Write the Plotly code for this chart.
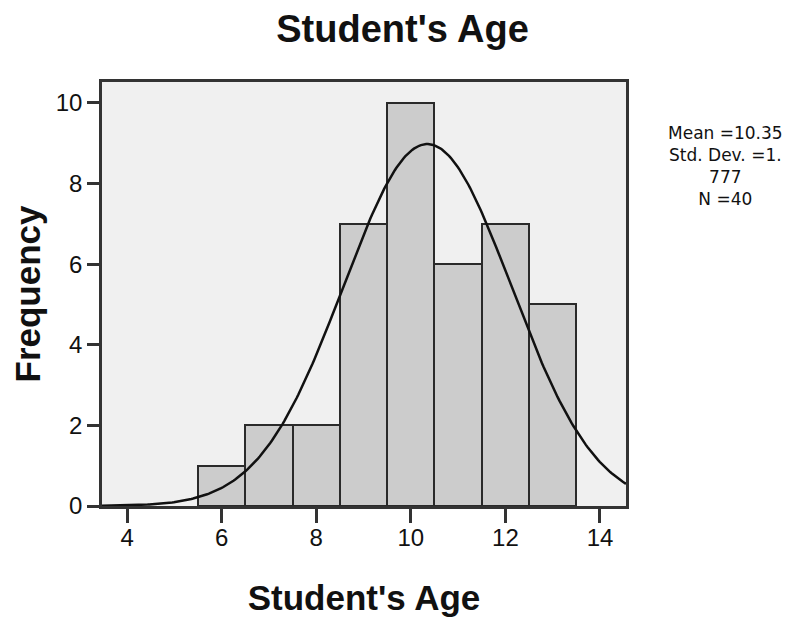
import numpy as np
import plotly.graph_objects as go

ages = [6, 7, 8, 9, 10, 11, 12, 13]
counts = [1, 2, 2, 7, 10, 6, 7, 5]
mean_age = 10.35
std_age = 1.777
n_total = 40
x_ticks = [4, 6, 8, 10, 12, 14]
y_ticks = [0, 2, 4, 6, 8, 10]
stats_lines = ["Mean =10.35", "Std. Dev. =1.", "777", "N =40"]

xs = np.linspace(3.47, 14.55, 300)
ys = n_total * 1.0 * np.exp(-0.5 * ((xs - mean_age) / std_age) ** 2) / (std_age * np.sqrt(2 * np.pi))

W, H = 791, 610
ML, MR, MT, MB = 94, 173, 74, 112

fig = go.Figure()
fig.add_trace(go.Bar(x=ages, y=counts, width=1,
                     marker=dict(color="#cccccc", line=dict(color="#2a2a2a", width=2)),
                     showlegend=False, hoverinfo="x+y"))
fig.add_trace(go.Scatter(x=xs, y=ys, mode="lines",
                         line=dict(color="#111111", width=2.5), showlegend=False))

fig.update_layout(
    width=W, height=H,
    margin=dict(l=ML, r=MR, t=MT, b=MB, autoexpand=False),
    paper_bgcolor="white", plot_bgcolor="#f0f0f0",
    font=dict(family="Liberation Sans, Arial, sans-serif", color="#111111"),
    title=dict(text="<b>Student's Age</b>", x=394.5 / W, xanchor="center", y=1 - 21 / H, yanchor="middle",
               font=dict(size=38, color="#111111")),
    bargap=0,
)
fig.update_xaxes(range=[3.47, 14.55], tickvals=x_ticks, ticks="outside", ticklen=14, tickwidth=2.5,
                 tickcolor="#333333", showline=True, linecolor="#333333", linewidth=2.5, mirror=True,
                 showgrid=False, zeroline=False, tickfont=dict(size=24), automargin=False,
                 ticklabelstandoff=-6,
                 title=dict(text="<b>Student's Age</b>", font=dict(size=35), standoff=36))
fig.update_yaxes(range=[0, 10.52], tickvals=y_ticks, ticks="outside", ticklen=12, tickwidth=2.5,
                 tickcolor="#333333", showline=True, linecolor="#333333", linewidth=2.5, mirror=True,
                 showgrid=False, zeroline=False, tickfont=dict(size=24), automargin=False,
                 title=dict(text="<b>Frequency</b>", font=dict(size=35), standoff=6))

pw = W - ML - MR
ph = H - MT - MB
fig.add_annotation(xref="paper", yref="paper", x=(717 - ML) / pw,
                   y=(H - MB - 158) / ph, xanchor="center", yanchor="middle",
                   text="<br>".join(stats_lines), showarrow=False, align="center",
                   font=dict(size=17, family="DejaVu Sans, sans-serif", color="#111111"))

fig.write_html("out.html")
